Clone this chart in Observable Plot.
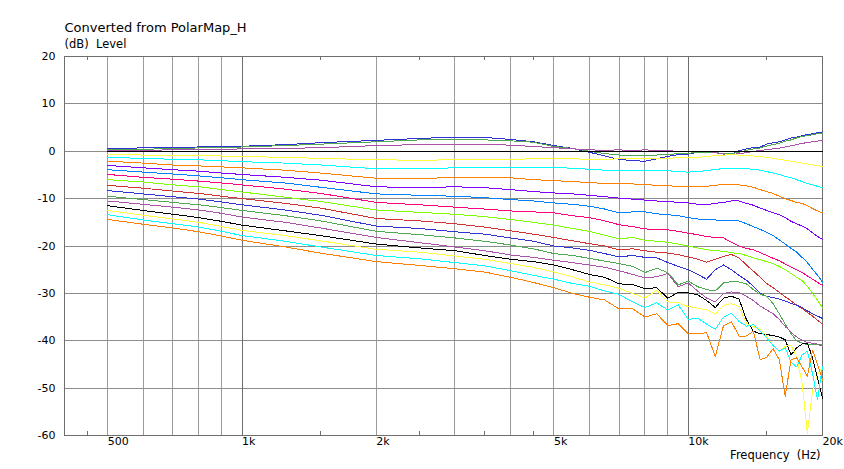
<!DOCTYPE html>
<html>
<head>
<meta charset="utf-8">
<script src="https://cdn.jsdelivr.net/npm/d3@7"></script>
<script src="https://cdn.jsdelivr.net/npm/@observablehq/plot@0.6"></script>
<style>
  html, body { margin: 0; padding: 0; background: #ffffff; }
  svg { display: block; }
</style>
</head>
<body>
<div id="chart"></div>
<script>
// Frequencies (Hz) at which the curves were read
const freqs = [500, 600, 700, 800, 900, 1000, 1250, 1500, 2000, 2500, 3000, 3500, 4000, 4500, 5000,
  5500, 6000, 6500, 7000, 7500, 8000, 8500, 9000, 9500, 10000, 10500, 11000, 11500, 12000, 12500,
  13000, 13500, 14000, 14500, 15000, 15500, 16000, 16500, 17000, 17500, 18000, 18500, 19000, 19500, 20000];

// Level (dB) per curve, top to bottom at 500 Hz
const c01 = [0.6, 0.7, 0.85, 0.9, 1.0, 1.05, 1.4, 1.8, 2.3, 2.7, 3.0, 2.9, 2.5, 2.0, 1.2,
  0.6, -0.2, -1.0, -1.7, -2.0, -2.1, -1.6, -1.1, -0.7, -0.6, -0.2, -0.2, -0.2, -0.6, -0.6,
  0.1, 0.5, 0.8, 0.9, 1.5, 1.8, 2.0, 2.4, 2.8, 3.0, 3.3, 3.5, 3.7, 3.9, 4.1];
const c02 = [0.3, 0.4, 0.6, 0.7, 0.8, 0.9, 1.2, 1.5, 2.0, 2.4, 2.5, 2.4, 2.2, 1.9, 1.0,
  0.6, 0.0, -0.5, -0.8, -0.9, -0.9, -0.8, -0.7, -0.5, -0.4, -0.3, -0.3, -0.35, -0.4, -0.5,
  -0.2, 0.2, 0.5, 0.7, 1.1, 1.4, 1.7, 2.1, 2.4, 2.8, 3.1, 3.3, 3.5, 3.7, 3.8];
const c03 = [0.1, 0.2, 0.3, 0.35, 0.4, 0.5, 0.6, 0.75, 1.2, 1.4, 1.4, 1.4, 1.3, 1.0, 0.75,
  0.5, 0.3, 0.2, 0.3, 0.15, 0.3, 0.15, 0.1, 0.0, 0.0, 0.0, 0.0, -0.3, -0.6, -0.7,
  -0.5, -0.3, 0.0, 0.15, 0.35, 0.5, 0.65, 0.9, 1.15, 1.4, 1.65, 1.85, 2.0, 2.15, 2.3];
const c04 = [0, 0, 0, 0, 0, 0, 0, 0, 0, 0, 0, 0, 0, 0, 0,
  0, 0, 0, 0, 0, 0, 0, 0, 0, 0, 0, 0, 0, 0, 0,
  0, 0, 0, 0, 0, 0, 0, 0, 0, 0, 0, 0, 0, 0, 0];
const c05 = [-0.7, -0.8, -0.9, -1.0, -1.0, -1.1, -1.3, -1.5, -1.8, -1.9, -1.8, -1.8, -1.7, -1.6, -1.5,
  -1.6, -1.7, -1.7, -1.6, -1.55, -1.55, -1.5, -1.45, -1.4, -1.4, -1.3, -1.1, -0.9, -0.8, -0.75,
  -0.8, -0.9, -1.0, -1.1, -1.3, -1.5, -1.7, -1.9, -2.1, -2.3, -2.5, -2.7, -2.9, -3.0, -3.2];
const c06 = [-1.3, -1.5, -1.7, -1.8, -2.0, -2.2, -2.5, -2.9, -3.7, -3.7, -3.5, -3.4, -3.4, -3.4, -3.4,
  -3.6, -3.8, -4.0, -4.1, -4.1, -4.1, -4.1, -4.1, -4.3, -4.4, -4.3, -4.1, -3.8, -3.7, -3.6,
  -3.6, -3.7, -3.8, -4.0, -4.3, -4.6, -4.9, -5.3, -5.6, -6.0, -6.4, -6.8, -7.1, -7.4, -7.7];
const c07 = [-2.1, -2.5, -2.9, -3.1, -3.3, -3.5, -4.0, -4.6, -5.7, -5.8, -5.5, -5.5, -5.6, -6.0, -6.2,
  -6.4, -6.6, -6.8, -6.9, -6.9, -7.0, -7.2, -7.3, -7.4, -7.5, -7.5, -7.4, -7.2, -7.0, -7.0,
  -7.1, -7.3, -7.6, -8.1, -8.5, -8.9, -9.5, -10.0, -10.4, -10.8, -11.0, -11.5, -12.1, -12.6, -13.0];
const c08 = [-3.0, -3.5, -3.9, -4.2, -4.6, -4.9, -5.5, -6.1, -7.5, -7.7, -7.5, -7.7, -8.1, -8.5, -8.8,
  -9.0, -9.3, -9.6, -9.9, -10.1, -10.3, -10.5, -10.6, -10.8, -10.9, -11.2, -11.3, -11.0, -10.8, -10.5,
  -10.5, -11.0, -11.4, -12.0, -12.5, -13.0, -13.4, -14.0, -14.8, -15.3, -15.8, -16.4, -17.2, -18.0, -18.6];
const c09 = [-3.9, -4.4, -4.8, -5.2, -5.6, -6.0, -6.7, -7.6, -9.0, -9.3, -9.5, -9.8, -10.2, -10.5, -10.9,
  -11.2, -11.6, -12.2, -13.0, -12.8, -12.8, -13.2, -13.4, -13.6, -14.0, -14.3, -14.5, -14.5, -14.6, -14.6,
  -14.7, -15.3, -15.9, -16.5, -17.1, -17.8, -18.7, -19.6, -20.5, -21.3, -22.4, -23.5, -24.9, -26.2, -27.6];
const c10 = [-4.9, -5.5, -5.9, -6.3, -6.7, -7.1, -8.0, -8.9, -10.8, -11.3, -11.8, -12.2, -12.6, -12.8, -13.0,
  -13.6, -14.0, -14.7, -15.5, -15.9, -16.4, -16.5, -16.6, -16.9, -17.3, -17.6, -18.0, -18.2, -18.3, -19.2,
  -20.0, -20.5, -20.8, -21.4, -22.0, -22.6, -23.1, -23.8, -24.4, -25.0, -25.6, -26.3, -27.0, -27.7, -28.3];
const c11 = [-6.0, -6.5, -7.1, -7.5, -8.1, -8.6, -9.7, -10.6, -12.4, -12.9, -13.3, -13.8, -14.4, -15.0, -15.6,
  -16.3, -16.9, -17.7, -18.5, -18.2, -18.8, -19.0, -19.2, -19.6, -20.0, -20.4, -20.8, -21.0, -21.1, -21.4,
  -21.6, -22.0, -22.5, -22.9, -23.3, -23.7, -24.3, -25.0, -25.8, -26.6, -27.3, -28.5, -30.0, -31.5, -33.0];
const c12 = [-7.2, -7.8, -8.4, -8.9, -9.5, -10.0, -11.0, -12.0, -14.2, -14.7, -15.3, -16.0, -16.8, -17.5, -18.2,
  -18.9, -19.5, -20.0, -20.8, -20.6, -21.0, -21.3, -21.5, -21.8, -22.3, -22.8, -23.4, -22.8, -22.2, -21.8,
  -22.5, -24.0, -25.3, -26.6, -27.9, -28.8, -29.8, -30.7, -31.6, -32.5, -33.2, -34.0, -34.8, -35.7, -36.5];
const c13 = [-8.3, -9.0, -9.6, -10.1, -10.7, -11.3, -12.4, -13.5, -15.8, -16.3, -17.0, -17.5, -18.3, -19.0, -20.0,
  -20.4, -20.9, -21.6, -22.3, -22.0, -22.4, -22.5, -23.5, -24.3, -25.0, -26.0, -27.0, -25.0, -24.0, -25.0,
  -26.2, -27.2, -28.5, -30.0, -30.6, -30.9, -31.2, -31.6, -32.1, -32.5, -33.0, -33.7, -34.3, -34.8, -35.3];
const c14 = [-9.5, -10.2, -10.8, -11.3, -11.9, -12.5, -13.6, -14.7, -16.9, -17.6, -18.3, -19.0, -19.8, -20.6, -21.6,
  -22.0, -22.6, -23.2, -23.7, -24.3, -25.6, -24.7, -25.6, -28.2, -27.4, -28.6, -29.2, -29.5, -27.8, -27.5,
  -27.6, -28.0, -29.2, -30.2, -30.6, -32.2, -34.3, -36.5, -38.5, -40.0, -40.5, -40.8, -40.8, -40.7, -40.8];
const c15 = [-10.5, -11.2, -11.8, -12.4, -13.1, -13.9, -15.0, -16.2, -18.2, -19.3, -20.2, -21.0, -21.9, -22.4, -23.0,
  -23.5, -24.0, -24.5, -25.2, -26.0, -26.7, -26.5, -25.8, -28.6, -27.8, -29.5, -31.0, -31.8, -30.0, -29.7,
  -29.8, -30.6, -31.5, -32.7, -33.5, -34.3, -35.5, -37.0, -38.2, -39.2, -39.9, -40.4, -40.5, -40.7, -41.2];
const c16 = [-11.5, -12.5, -13.3, -14.0, -14.8, -15.6, -16.8, -17.8, -19.6, -20.4, -21.0, -22.0, -22.8, -23.3, -24.0,
  -25.0, -26.0, -26.6, -28.0, -28.1, -29.0, -28.8, -31.0, -29.8, -29.9, -30.3, -31.5, -33.0, -31.0, -30.6,
  -31.2, -35.5, -38.0, -38.5, -38.7, -38.9, -39.2, -39.8, -43.0, -41.5, -40.7, -40.5, -43.6, -48.0, -52.1];
const c17 = [-12.5, -13.5, -14.3, -15.0, -15.9, -16.7, -17.8, -18.9, -20.7, -21.3, -22.1, -22.8, -23.7, -24.5, -25.5,
  -26.5, -27.6, -28.2, -28.9, -30.0, -31.0, -29.3, -31.8, -32.0, -32.8, -33.1, -33.5, -34.4, -32.5, -32.2,
  -32.8, -36.3, -37.0, -37.6, -39.0, -41.0, -42.2, -41.2, -40.9, -43.5, -49.0, -59.5, -50.5, -47.0, -45.7];
const c18 = [-13.4, -14.5, -15.3, -16.0, -16.9, -17.8, -19.0, -20.2, -22.0, -22.7, -23.5, -24.2, -25.2, -26.2, -27.0,
  -27.9, -28.5, -29.5, -30.2, -31.8, -33.0, -32.0, -33.5, -32.4, -35.5, -35.2, -36.5, -37.6, -35.0, -34.2,
  -35.9, -36.9, -36.6, -38.0, -39.4, -41.0, -42.2, -41.5, -44.5, -45.5, -43.0, -42.2, -47.0, -52.5, -45.4];
const c19 = [-14.4, -15.4, -16.2, -17.0, -17.9, -18.8, -20.2, -21.5, -23.3, -24.1, -24.8, -25.5, -26.6, -27.7, -28.8,
  -30.0, -30.8, -31.4, -33.3, -33.2, -35.0, -34.3, -36.8, -36.4, -38.5, -38.5, -38.3, -43.3, -36.8, -36.0,
  -39.0, -39.0, -38.0, -44.0, -43.5, -41.7, -44.0, -51.7, -44.0, -43.6, -45.5, -47.5, -42.0, -45.0, -48.3];

const seriesValues = [c01, c02, c03, c04, c05, c06, c07, c08, c09, c10, c11, c12, c13, c14, c15, c16, c17, c18, c19];
const curveNames = ["c01", "c02", "c03", "c04", "c05", "c06", "c07", "c08", "c09", "c10",
  "c11", "c12", "c13", "c14", "c15", "c16", "c17", "c18", "c19"];
const curveColors = ["#3232d2", "#50a850", "#a852a8", "#000000", "#ffff40", "#00ffff", "#ff8000", "#8000ff",
  "#0080ff", "#ff0080", "#80ff00", "#d23232", "#3232d2", "#50a850", "#a852a8", "#000000", "#ffff40", "#00ffff", "#ff8000"];

// Axes and grid
const yTicks = [20, 10, 0, -10, -20, -30, -40, -50, -60];
const xTickValues = [500, 1000, 2000, 5000, 10000, 20000];
const xTickLabels = ["500", "1k", "2k", "5k", "10k", "20k"];
const gridMinor = [500, 600, 700, 800, 900, 2000, 3000, 4000, 5000, 6000, 7000, 8000, 9000];
const gridMajor = [1000, 10000];
const minorTicks = [450, 1500, 2500, 3500, 4500, 15000];

const rows = seriesValues.flatMap((vals, i) =>
  freqs.map((f, j) => ({curve: curveNames[i], f, v: vals[j]})));

const font = "'DejaVu Sans', Verdana, sans-serif";
const crisp = {shapeRendering: "crispEdges"};

const chart = Plot.plot({
  width: 844,
  height: 469,
  marginLeft: 64,
  marginRight: 22,
  marginTop: 56,
  marginBottom: 34,
  style: {fontFamily: font, fontSize: "11px", background: "#ffffff", color: "#000"},
  x: {type: "log", domain: [400, 20000], axis: null},
  y: {domain: [-60, 20], axis: null},
  color: {domain: curveNames, range: curveColors},
  marks: [
    Plot.ruleX(gridMinor, {x: d => d, stroke: "#9a9a9a", strokeWidth: 1, ...crisp}),
    Plot.ruleY(yTicks, {y: d => d, stroke: "#8c8c8c", strokeWidth: 1, ...crisp}),
    Plot.ruleX(gridMajor, {x: d => d, stroke: "#6e6e6e", strokeWidth: 1, ...crisp}),
    Plot.ruleX(minorTicks, {x: d => d, y1: -60, y2: -59.15, stroke: "#6e6e6e", ...crisp}),
    Plot.ruleX(minorTicks, {x: d => d, y1: 20, y2: 19.15, stroke: "#6e6e6e", ...crisp}),
    Plot.frame({stroke: "#6e6e6e", strokeWidth: 1, ...crisp}),
    Plot.line(rows, {x: "f", y: "v", z: "curve", stroke: "curve", strokeWidth: 1, curve: "linear", ...crisp}),
    Plot.text(yTicks, {y: d => d, frameAnchor: "left", dx: -9, textAnchor: "end", text: d => String(d), fontSize: 11, fill: "#000"}),
    Plot.text(xTickValues, {x: d => d, frameAnchor: "bottom", dy: 9, textAnchor: "start", text: (d, i) => xTickLabels[i], fontSize: 11, fill: "#000"}),
    Plot.text(["Frequency\u00a0\u00a0(Hz)"], {frameAnchor: "bottom-right", dx: -2, dy: 23, textAnchor: "end", fontSize: 11.5, fill: "#000"}),
    Plot.text(["Converted from PolarMap_H"], {frameAnchor: "top-left", dy: -33.5, textAnchor: "start", fontSize: 13, fill: "#000"}),
    Plot.text(["(dB)\u00a0\u00a0Level"], {frameAnchor: "top-left", dy: -16.5, textAnchor: "start", fontSize: 11.5, fill: "#000"})
  ]
});

document.getElementById("chart").appendChild(chart);
</script>
</body>
</html>
